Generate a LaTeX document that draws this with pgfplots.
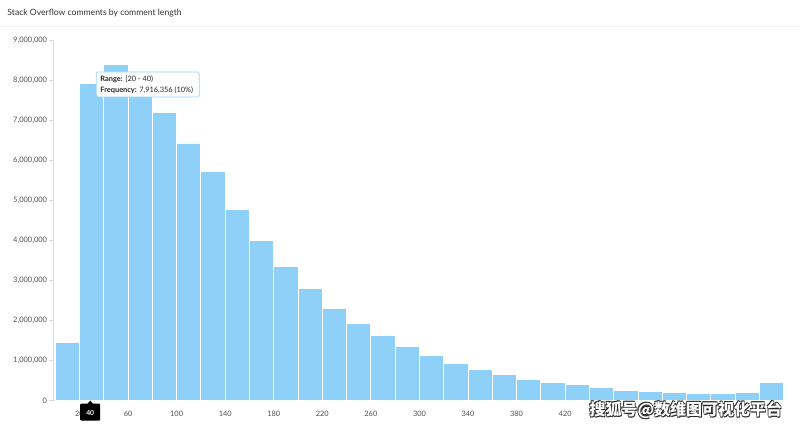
\documentclass[border=0pt]{standalone}
\usepackage{pgfplots}
\pgfplotsset{compat=1.18}
\usepackage{fontspec}
\setmainfont{Lato}
\newfontfamily\cjk{Noto Sans CJK SC}
\definecolor{barblue}{RGB}{143,208,248}
\definecolor{axgray}{RGB}{218,218,218}
\definecolor{labgray}{RGB}{80,80,80}
\definecolor{tipblue}{RGB}{150,212,246}
\begin{document}
\begin{tikzpicture}
\fill[white] (0,0) rectangle (800pt,427pt);
\node[anchor=west, font=\fontsize{8.6}{10}\selectfont, text=black!80, inner sep=0pt] at (7pt,414pt) {Stack Overflow comments by comment length};
\draw[black!5, line width=0.6pt] (0,401pt) -- (800pt,401pt);
\begin{axis}[
  at={(53pt,26pt)}, anchor=south west,
  scale only axis, width=731pt, height=361pt,
  xmin=-1.6, xmax=600, ymin=0, ymax=9000000,
  axis x line*=bottom, axis y line*=left,
  axis line style={draw=axgray, line width=0.8pt},
  ytick={0,1000000,2000000,3000000,4000000,5000000,6000000,7000000,8000000,9000000},
  xtick={20,60,100,140,180,220,260,300,340,380,420},
  scaled y ticks=false,
  tick align=outside,
  major tick length=4pt,
  ytick style={draw=axgray, line width=0.8pt},
  xtick style={draw=none},
  /pgf/number format/fixed,
  /pgf/number format/1000 sep={,},
  /pgf/number format/assume math mode=true,
  yticklabel style={font=\fontsize{7.5}{8}\selectfont, text=labgray, inner sep=2pt},
  xticklabel style={font=\fontsize{7.4}{8}\selectfont, text=labgray, yshift=-2.5pt},
  clip=false,
]
\addplot[ybar interval, fill=barblue, draw=white, line width=0.9pt] coordinates {
(0,1460000) (20,7916356) (40,8400000) (60,7800000) (80,7200000)
(100,6430000) (120,5720000) (140,4760000) (160,3990000) (180,3350000)
(200,2800000) (220,2310000) (240,1930000) (260,1630000) (280,1360000)
(300,1120000) (320,920000) (340,770000) (360,650000) (380,540000)
(400,460000) (420,400000) (440,320000) (460,260000) (480,230000)
(500,210000) (520,180000) (540,180000) (560,210000) (580,460000)
(600,460000)
};
\end{axis}
% tooltip
\draw[tipblue, fill=white, rounded corners=1.5pt, line width=0.7pt] (96pt,330pt) rectangle (199pt,355pt);
\node[anchor=west, font=\fontsize{7.4}{8}\selectfont, text=black!85, inner sep=0pt] at (100pt,348pt) {\textbf{Range:} [20 - 40)};
\node[anchor=west, font=\fontsize{7.4}{8}\selectfont, text=black!85, inner sep=0pt] at (100pt,337pt) {\textbf{Frequency:} 7,916,356 (10\%)};
% hovered tick label
\fill[black, rounded corners=1pt] (80pt,6pt) rectangle (100pt,23pt);
\fill[black] (86.5pt,22pt) -- (93.5pt,22pt) -- (90pt,26pt) -- cycle;
\node[font=\bfseries\fontsize{6.8}{7}\selectfont, text=white, inner sep=0pt] at (90pt,14pt) {40};
% watermark
\foreach \dx/\dy in {-0.8/0.3,0.9/-0.9,0.3/0.8,-0.3/-0.9}{
  \node[xshift=\dx pt, yshift=\dy pt, font=\cjk\bfseries\fontsize{16}{16}\selectfont, text=black!85, inner sep=0pt] at (686pt,17pt) {搜狐号@数维图可视化平台};
}
\node[font=\cjk\bfseries\fontsize{16}{16}\selectfont, text=white, inner sep=0pt] at (686pt,17pt) {搜狐号@数维图可视化平台};
\end{tikzpicture}
\end{document}
